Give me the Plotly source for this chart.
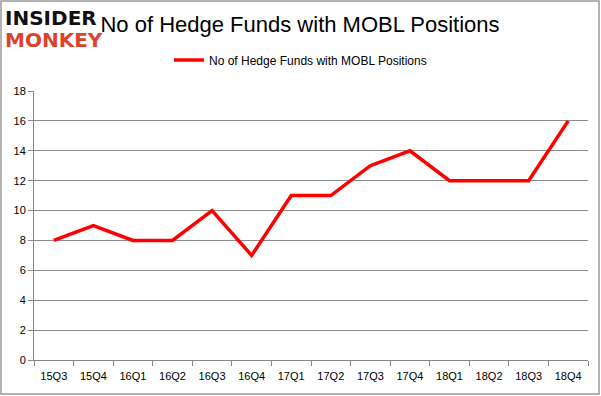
import plotly.graph_objects as go

quarters = ["15Q3", "15Q4", "16Q1", "16Q2", "16Q3", "16Q4", "17Q1", "17Q2",
            "17Q3", "17Q4", "18Q1", "18Q2", "18Q3", "18Q4"]
hedge_funds = [8, 9, 8, 8, 10, 7, 11, 11, 13, 14, 12, 12, 12, 16]
series_name = "No of Hedge Funds with MOBL Positions"
y_ticks = [0, 2, 4, 6, 8, 10, 12, 14, 16, 18]

W, H = 601, 396
ml, mr, mt, mb = 34, 13, 91, 36
pw, ph = W - ml - mr, H - mt - mb

fig = go.Figure()
fig.add_trace(go.Scatter(
    x=quarters, y=hedge_funds, mode="lines", name=series_name,
    line=dict(color="#ff0000", width=3.5),
))

font_family = "Liberation Sans, Arial, sans-serif"

fig.update_layout(
    width=W, height=H,
    margin=dict(l=ml, r=mr, t=mt, b=mb, autoexpand=False),
    paper_bgcolor="white", plot_bgcolor="white",
    showlegend=True,
    legend=dict(orientation="h", xref="container", yref="container",
                x=0.5, xanchor="center", y=1 - 60 / H, yanchor="middle",
                font=dict(family=font_family, size=12, color="#000"),
                itemwidth=30),
    title=dict(text="No of Hedge Funds with MOBL Positions", x=300 / W, xanchor="center",
               y=1 - 24 / H, yanchor="middle",
               font=dict(family=font_family, size=22, color="#000")),
    xaxis=dict(type="category", range=[-0.5, len(quarters) - 0.5], automargin=False,
               tickson="boundaries", ticks="outside", ticklen=5, ticklabelstandoff=6,
               tickcolor="#888", showline=True, linecolor="#888", showgrid=False,
               tickfont=dict(family=font_family, size=11, color="#000"), fixedrange=True),
    yaxis=dict(range=[0, 18], tickvals=y_ticks, ticks="outside", ticklen=5, tickcolor="#888",
               automargin=False,
               showline=True, linecolor="#888", showgrid=True, gridcolor="#8c8c8c",
               gridwidth=1, zeroline=False,
               tickfont=dict(family=font_family, size=11, color="#000"), fixedrange=True),
)

# outer border
fig.add_shape(type="rect", xref="paper", yref="paper",
              x0=(1 - ml) / pw, x1=(W - 2 - ml) / pw,
              y0=(mt + ph - (H - 2)) / ph, y1=(mt + ph - 1) / ph,
              line=dict(color="#9a9a9a", width=1.5), fillcolor="rgba(0,0,0,0)", layer="below")

# logo
fig.add_annotation(text="<b>INSIDER</b>", xref="paper", yref="paper",
                   x=(4 - ml) / pw, y=(mt + ph - 18) / ph, xanchor="left", yanchor="middle",
                   showarrow=False, bgcolor="white", borderpad=0,
                   font=dict(family="DejaVu Sans, sans-serif", size=20, color="#111"))
fig.add_annotation(text="<b>MONKEY</b>", xref="paper", yref="paper",
                   x=(4 - ml) / pw, y=(mt + ph - 40) / ph, xanchor="left", yanchor="middle",
                   showarrow=False, borderpad=0,
                   font=dict(family="DejaVu Sans, sans-serif", size=20, color="#d9442b"))

fig.write_html("out.html", config={"displayModeBar": False},
               post_script="document.body.style.margin='0';")
